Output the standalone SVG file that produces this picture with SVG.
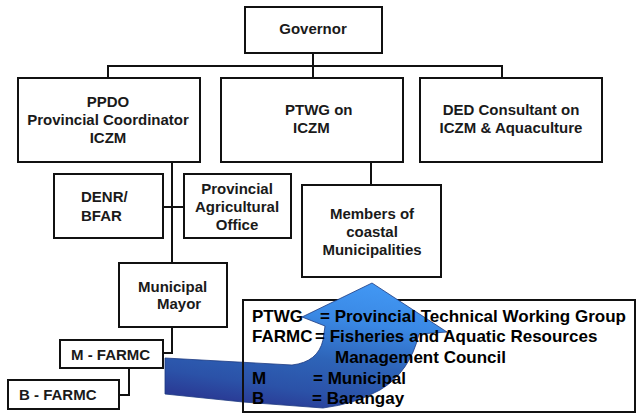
<svg xmlns="http://www.w3.org/2000/svg" width="637" height="414" viewBox="0 0 637 414">
  <defs>
    <style>
      .box { fill: #ffffff; stroke: #111111; stroke-width: 2; }
      .ln { fill: none; stroke: #111111; stroke-width: 2; }
      .t { font-family: "Liberation Sans", Arial, sans-serif; font-size: 15px; font-weight: bold; fill: #1a1a1a; }
      .c { text-anchor: middle; }
      .lg { font-family: "Liberation Sans", Arial, sans-serif; font-size: 17px; font-weight: bold; fill: #000000; }
    </style>
    <linearGradient id="arrowFill" x1="0.75" y1="0" x2="0.4" y2="1">
      <stop offset="0" stop-color="#4298f4"/>
      <stop offset="0.3" stop-color="#3a88e4"/>
      <stop offset="0.6" stop-color="#2e64b8"/>
      <stop offset="0.85" stop-color="#2b52a8"/>
      <stop offset="1" stop-color="#2a3c96"/>
    </linearGradient>
  </defs>

  <!-- connectors -->
  <g id="connectors">
    <path class="ln" d="M313 53 V78"/>
    <path class="ln" d="M108 78 V66 H502 V78"/>
    <path class="ln" d="M172 162 V263"/>
    <path class="ln" d="M163 207 H184"/>
    <path class="ln" d="M172 327 V353 H163"/>
    <path class="ln" d="M129 368 V395 H119"/>
    <path class="ln" d="M371 162 V185"/>
  </g>

  <g id="governor">
    <rect class="box" x="245" y="7" width="137" height="46"/>
    <text class="t c" x="313" y="34">Governor</text>
  </g>

  <g id="ppdo">
    <rect class="box" x="18" y="78" width="182" height="84"/>
    <text class="t c" x="108" y="107">PPDO</text>
    <text class="t c" x="108" y="125">Provincial Coordinator</text>
    <text class="t c" x="108" y="143">ICZM</text>
  </g>

  <g id="ptwg">
    <rect class="box" x="221" y="78" width="182" height="84"/>
    <text class="t" x="285" y="115">PTWG on</text>
    <text class="t" x="293" y="133">ICZM</text>
  </g>

  <g id="ded">
    <rect class="box" x="420" y="78" width="182" height="84"/>
    <text class="t c" x="511" y="115">DED Consultant on</text>
    <text class="t c" x="511" y="133">ICZM &amp; Aquaculture</text>
  </g>

  <g id="denr-bfar">
    <rect class="box" x="54" y="174" width="109" height="64"/>
    <text class="t" x="81" y="202">DENR/</text>
    <text class="t" x="81" y="221">BFAR</text>
  </g>

  <g id="agri-office">
    <rect class="box" x="184" y="174" width="107" height="64"/>
    <text class="t c" x="237" y="194">Provincial</text>
    <text class="t c" x="237" y="212">Agricultural</text>
    <text class="t c" x="237" y="230">Office</text>
  </g>

  <g id="members">
    <rect class="box" x="302" y="185" width="139" height="92"/>
    <text class="t c" x="372" y="219">Members of</text>
    <text class="t c" x="372" y="237">coastal</text>
    <text class="t c" x="372" y="255">Municipalities</text>
  </g>

  <g id="mayor">
    <rect class="box" x="119" y="263" width="108" height="64"/>
    <text class="t" x="138" y="292">Municipal</text>
    <text class="t" x="157" y="309">Mayor</text>
  </g>

  <g id="m-farmc">
    <rect class="box" x="60" y="340" width="103" height="28"/>
    <text class="t" x="71" y="360">M - FARMC</text>
  </g>

  <g id="b-farmc">
    <rect class="box" x="8" y="380" width="111" height="29"/>
    <text class="t" x="19" y="400">B - FARMC</text>
  </g>

  <!-- legend with the curved arrow behind its text -->
  <g id="legend">
    <rect x="243" y="300" width="392" height="112" fill="#ffffff" stroke="#111111" stroke-width="2"/>
    <path fill="url(#arrowFill)" stroke="#1d3a80" stroke-width="0.8" d="M165 358 L292 365 Q318 362 323 340 L325 326 L302 317 L372 283 L447 332 L419 334 Q410 372 380 390 Q355 404 323 408 L243 402 L165 394 Z"/>
    <path class="ln" d="M243 300 V412 H635 V300"/>
    <text class="lg" x="252" y="322">PTWG</text>
    <text class="lg" x="320" y="322">= Provincial Technical Working Group</text>
    <text class="lg" x="252" y="342">FARMC</text>
    <text class="lg" x="315" y="342">= Fisheries and Aquatic Resources</text>
    <text class="lg" x="335" y="363">Management Council</text>
    <text class="lg" x="252" y="384">M</text>
    <text class="lg" x="313" y="384">= Municipal</text>
    <text class="lg" x="252" y="404">B</text>
    <text class="lg" x="312" y="404">= Barangay</text>
  </g>
</svg>
